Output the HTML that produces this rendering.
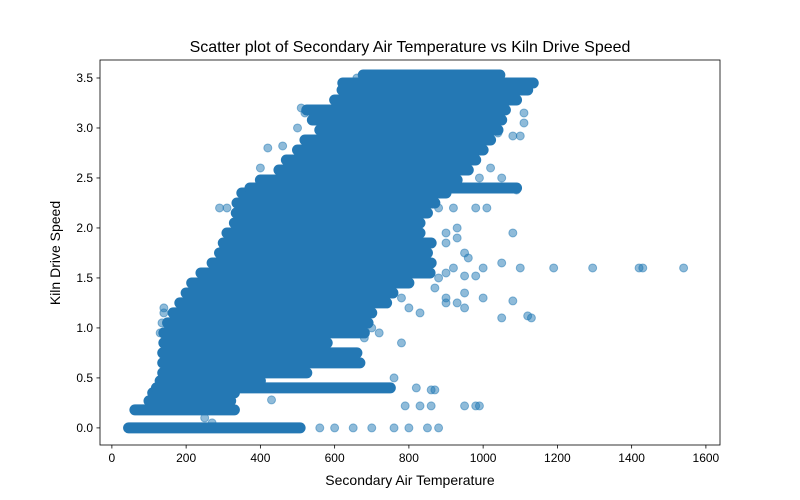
<!DOCTYPE html>
<html><head><meta charset="utf-8">
<style>
body{margin:0;background:#fff;}
svg{display:block;font-family:"Liberation Sans","DejaVu Sans",sans-serif;}
</style></head>
<body>
<svg id="chart" width="800" height="500" viewBox="0 0 800 500">
<rect width="800" height="500" fill="#fff"/>
<text x="410" y="52" font-size="16" text-anchor="middle">Scatter plot of Secondary Air Temperature vs Kiln Drive Speed</text>
<g id="plot"></g>
<g id="axes"></g>
<text x="410" y="485" font-size="14" text-anchor="middle">Secondary Air Temperature</text>
<text transform="translate(60,253) rotate(-90)" font-size="14" text-anchor="middle">Kiln Drive Speed</text>
</svg>
<script>
// dense horizontal bands: speed level, temp start, temp end
const bandSpeed = [0,0.18,0.27,0.35,0.40,0.47,0.55,0.65,0.75,0.85,0.95,1.05,1.15,1.25,1.35,1.45,1.55,1.65,1.75,1.85,1.95,2.05,2.15,2.25,2.35,2.40,2.48,2.58,2.68,2.78,2.88,2.98,3.08,3.18,3.28,3.38,3.45,3.53];
const bandTempStart = [45,62,100,110,120,130,137,137,137,140,140,150,165,183,200,215,240,270,290,300,310,330,335,337,350,372,400,450,470,500,520,560,540,525,600,620,622,677];
const bandTempEnd = [507,330,320,330,750,400,525,668,660,580,680,690,700,740,757,800,857,860,850,860,830,830,850,870,900,1090,930,960,980,1000,1020,1040,1050,1060,1090,1120,1135,1045];
// individual sparse points
const ptTemp = [1050,1100,1190,1295,1420,1430,1540,1050,1120,1130,1080,1000,950,900,780,760,790,830,860,950,980,990,430,250,270,320,560,650,700,760,800,850,880,600,140,140,135,130,1110,1110,1100,1080,1090,1060,1010,980,1080,900,950,980,1000,860,870,820,180,200,230,245,260,290,300,330,310,290,310,275,400,420,460,500,520,510,660,900,950,930,1000,1050,1040,1120,1125,880,920,960,990,1020,900,930,960,920,880,950,780,800,830,700,720,680,870,900,930];
const ptSpeed = [1.65,1.6,1.6,1.6,1.6,1.6,1.6,1.1,1.12,1.1,1.27,1.3,1.2,1.25,0.85,0.5,0.22,0.22,0.22,0.22,0.22,0.22,0.28,0.1,0.05,0.22,0,0,0,0,0,0,0,0,1.2,1.15,1.05,0.95,3.15,3.05,2.92,2.92,2.38,2.4,2.2,2.2,1.95,1.55,1.52,1.52,1.6,0.38,0.38,0.4,1.05,1.12,1.45,1.5,1.55,1.65,1.8,1.85,1.95,2.2,2.2,1.45,2.6,2.8,2.82,3.0,3.15,3.2,3.5,1.85,1.75,2.0,2.4,2.5,2.95,3.42,3.44,2.2,2.2,2.4,2.5,2.6,1.95,1.9,1.7,1.6,1.5,1.35,1.3,1.2,1.15,1.0,0.95,0.9,1.4,1.3,1.25];
const xTicks = [0,200,400,600,800,1000,1200,1400,1600];
const yTicks = [0,0.5,1.0,1.5,2.0,2.5,3.0,3.5];

const NS='http://www.w3.org/2000/svg';
const L=100,R=720,T=60,B=445;
const xMin=-32,xMax=1638,yMin=-0.171,yMax=3.68;
const sx=v=>L+(v-xMin)/(xMax-xMin)*(R-L);
const sy=v=>B-(v-yMin)/(yMax-yMin)*(B-T);
const plot=document.getElementById('plot');
const axes=document.getElementById('axes');
function mk(tag,attrs,parent){const e=document.createElementNS(NS,tag);for(const k in attrs)e.setAttribute(k,attrs[k]);parent.appendChild(e);return e;}

for(let i=0;i<ptTemp.length;i++){
  const c=mk('circle',{cx:sx(ptTemp[i]),cy:sy(ptSpeed[i]),r:4,fill:'#1f77b4','fill-opacity':0.5,stroke:'#1f77b4','stroke-opacity':0.5},plot);
  
  
}
for(let i=0;i<bandSpeed.length;i++){
  const ln=mk('line',{x1:sx(bandTempStart[i]),x2:sx(bandTempEnd[i]),y1:sy(bandSpeed[i]),y2:sy(bandSpeed[i]),stroke:'#2478b4','stroke-width':11,'stroke-linecap':'round'},plot);
  
  
}
const frame=mk('rect',{x:L,y:T,width:R-L,height:B-T,fill:'none',stroke:'#000','stroke-width':0.8},axes);


xTicks.forEach(v=>{
  const x=sx(v);
  const t=mk('line',{x1:x,x2:x,y1:B,y2:B+3.5,stroke:'#000','stroke-width':0.8},axes);
  
  
  const tx=mk('text',{x:x,y:B+17,'font-size':12,'text-anchor':'middle'},axes);
  tx.textContent=v;
  
  
});
yTicks.forEach(v=>{
  const y=sy(v);
  const t=mk('line',{x1:L-3.5,x2:L,y1:y,y2:y,stroke:'#000','stroke-width':0.8},axes);
  
  
  const tx=mk('text',{x:L-7,y:y+4,'font-size':12,'text-anchor':'end'},axes);
  tx.textContent=v.toFixed(1);
  
  
});
</script>
</body></html>
